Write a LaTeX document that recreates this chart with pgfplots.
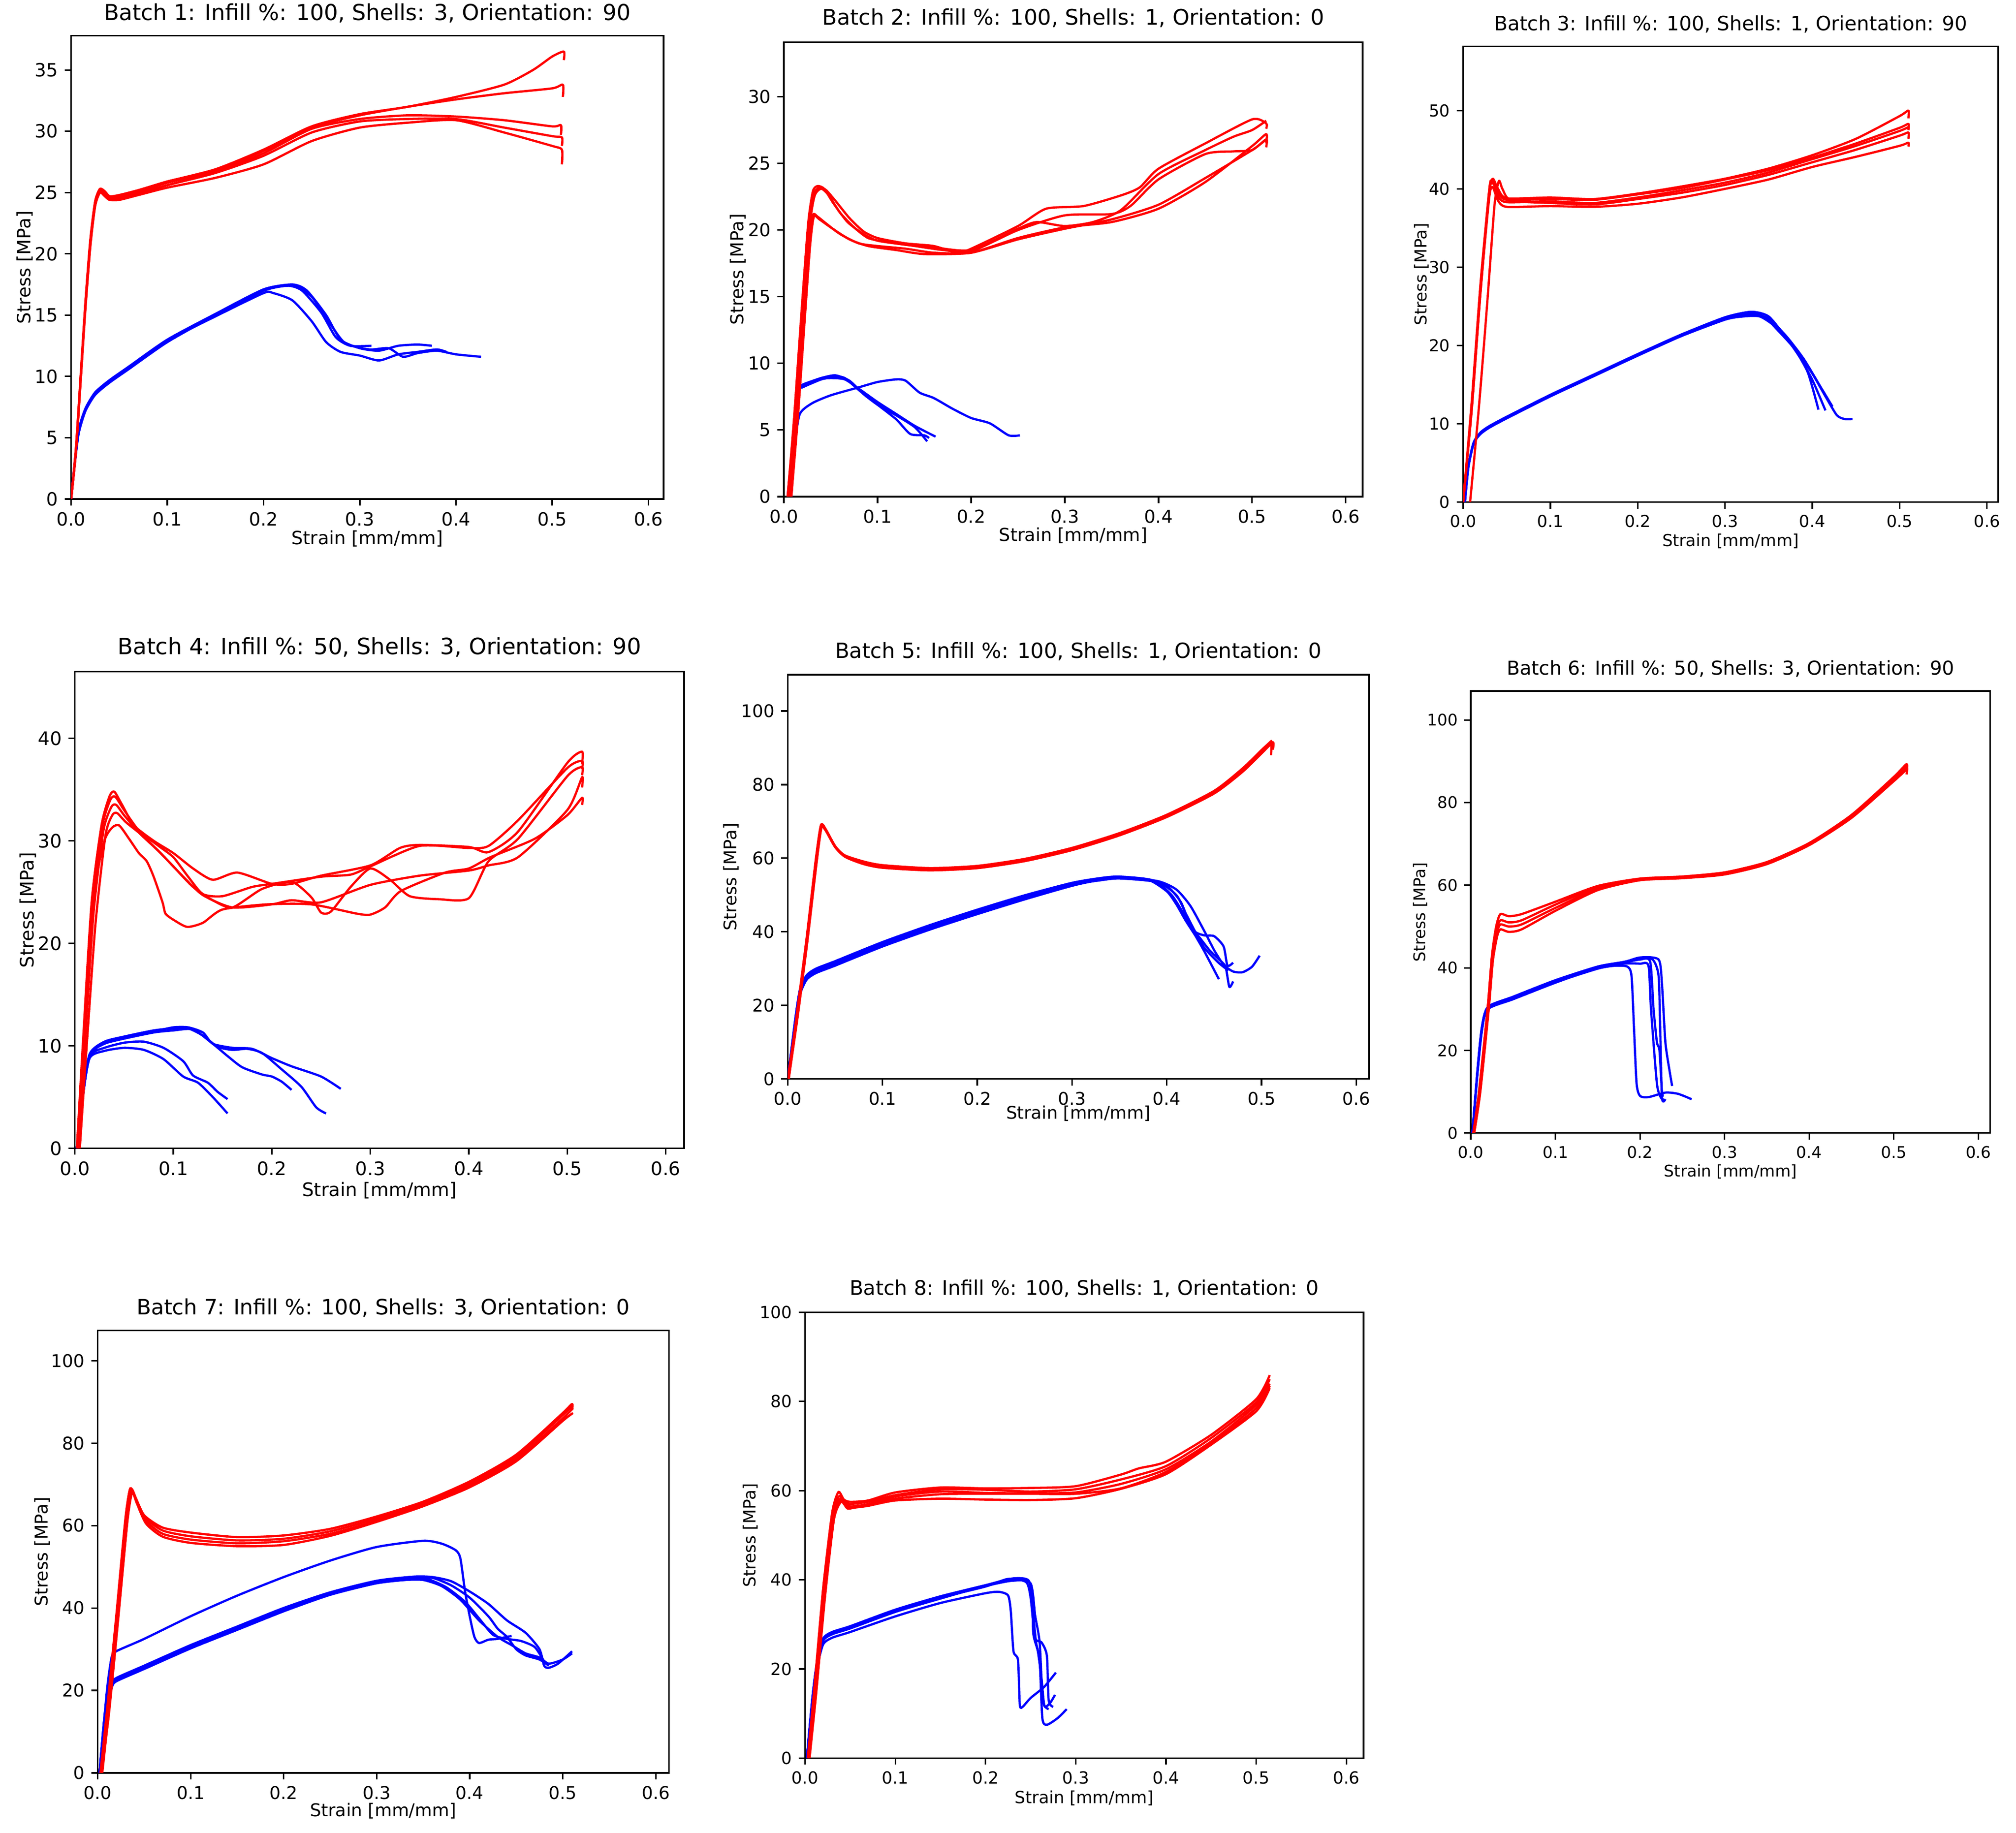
\documentclass[border=0pt]{standalone}
\usepackage{fontspec}
\setmainfont{DejaVu Sans}
\usepackage{pgfplots}
\pgfplotsset{compat=1.18}
\pgfplotsset{
  panel/.style={
    scale only axis, anchor=north west,
    xmin=0, ymin=0,
    xtick={0,0.1,0.2,0.3,0.4,0.5,0.6},
    tick align=outside, major tick length=3.5pt,
    tick pos=left,
    axis line style={line width=0.8pt},
    tick style={black, line width=0.8pt},
    /pgf/number format/assume math mode=true,
    xticklabel style={/pgf/number format/.cd, fixed, fixed zerofill, precision=1},
    xlabel={Strain [mm/mm]}, ylabel={Stress [MPa]},
    every axis plot/.append style={line width=1.2pt, line join=round, smooth, tension=0.4},
  },
  fs/.style 2 args={title style={font=\fontsize{#1}{#1}\selectfont}, tick label style={font=\fontsize{#2}{#2}\selectfont}, label style={font=\fontsize{#2}{#2}\selectfont}},
  gaps/.style n args={3}{title style={at={([yshift=#1]axis description cs:0.5,1)},anchor=base},
      xlabel style={at={([yshift=-#2]axis description cs:0.5,0)},anchor=base},
      ylabel style={at={([xshift=-#3]axis description cs:0,0.5)},anchor=base}},
  rd/.style={red, line width=1.2pt}, bl/.style={blue, line width=1.2pt},
}
\begin{document}
\begin{tikzpicture}
\path[use as bounding box] (0,0) rectangle (1081.5pt,-983.25pt);
% ---------------- Batch 1
\begin{axis}[panel, at={(38.15pt,-19.125pt)}, width=317.85pt, height=248.6pt,
  xmax=0.6157, ymax=37.8, ytick={0,5,10,15,20,25,30,35},
  fs={11.8pt}{9.8pt}, gaps={2.3pt}{24.5pt}{21.75pt},
  title={Batch 1: Infill \%: 100, Shells: 3, Orientation: 90}]
\addplot[bl] coordinates {(0,0) (0.004,3) (0.008,5.5) (0.015,7.3) (0.025,8.6) (0.04,9.6) (0.06,10.7) (0.1,12.9) (0.15,15.0) (0.2,17.0) (0.225,17.4) (0.24,17.0) (0.26,15.2) (0.275,13.2) (0.29,12.5) (0.312,12.5)};
\addplot[bl] coordinates {(0,0) (0.004,3.2) (0.008,5.7) (0.015,7.4) (0.025,8.7) (0.04,9.7) (0.06,10.8) (0.1,13.0) (0.15,15.1) (0.2,17.1) (0.23,17.5) (0.245,17.0) (0.265,15.0) (0.28,13.0) (0.3,12.3) (0.32,12.1) (0.34,12.5) (0.36,12.6) (0.375,12.5)};
\addplot[bl] coordinates {(0,0) (0.004,3) (0.008,5.4) (0.015,7.2) (0.025,8.5) (0.04,9.5) (0.06,10.6) (0.1,12.8) (0.15,15.0) (0.2,17.0) (0.23,17.4) (0.25,16.5) (0.27,14.2) (0.285,12.7) (0.31,12.2) (0.33,12.3) (0.345,11.6) (0.36,11.9) (0.38,12.1) (0.4,11.8) (0.426,11.6)};
\addplot[bl] coordinates {(0,0) (0.004,3.1) (0.008,5.6) (0.015,7.3) (0.025,8.6) (0.04,9.6) (0.06,10.7) (0.1,12.9) (0.15,14.9) (0.2,16.8) (0.21,16.8) (0.23,16.2) (0.25,14.5) (0.265,12.8) (0.28,12.0) (0.3,11.7) (0.32,11.3) (0.34,11.8) (0.36,12.0) (0.38,12.2) (0.39,12.0)};
\addplot[rd] coordinates {(0,0) (0.005,4) (0.01,10) (0.015,16) (0.02,21) (0.025,24.2) (0.03,25.3) (0.035,25.1) (0.04,24.7) (0.05,24.8) (0.07,25.2) (0.1,25.9) (0.15,26.9) (0.2,28.5) (0.25,30.4) (0.3,31.4) (0.35,32.0) (0.4,32.8) (0.45,33.8) (0.48,35.0) (0.5,36.1) (0.512,36.5) (0.512,35.8)};
\addplot[rd] coordinates {(0,0) (0.005,4.2) (0.01,10.2) (0.015,16.2) (0.02,21.2) (0.025,24.3) (0.03,25.3) (0.035,25.0) (0.04,24.6) (0.05,24.7) (0.07,25.1) (0.1,25.9) (0.15,26.8) (0.2,28.4) (0.25,30.3) (0.3,31.3) (0.35,32.0) (0.4,32.6) (0.45,33.1) (0.5,33.5) (0.511,33.8) (0.511,32.8)};
\addplot[rd] coordinates {(0,0) (0.005,4) (0.01,10) (0.015,16) (0.02,21) (0.025,24.1) (0.03,25.2) (0.035,24.9) (0.04,24.5) (0.05,24.6) (0.07,25.0) (0.1,25.8) (0.15,26.7) (0.2,28.2) (0.25,30.2) (0.3,31.0) (0.35,31.3) (0.4,31.2) (0.45,30.9) (0.5,30.4) (0.509,30.5) (0.509,29.7)};
\addplot[rd] coordinates {(0,0) (0.005,3.9) (0.01,9.8) (0.015,15.8) (0.02,20.8) (0.025,24.0) (0.03,25.1) (0.035,24.8) (0.04,24.4) (0.05,24.5) (0.07,24.9) (0.1,25.6) (0.15,26.6) (0.2,28.0) (0.25,29.9) (0.3,30.8) (0.35,31.0) (0.4,31.0) (0.45,30.3) (0.5,29.6) (0.51,29.5) (0.51,28.8)};
\addplot[rd] coordinates {(0,0) (0.005,3.8) (0.01,9.7) (0.015,15.6) (0.02,20.6) (0.025,23.9) (0.03,25.0) (0.035,24.7) (0.04,24.4) (0.05,24.4) (0.07,24.8) (0.1,25.4) (0.15,26.2) (0.2,27.3) (0.25,29.2) (0.3,30.3) (0.35,30.7) (0.4,30.9) (0.45,29.9) (0.5,28.8) (0.51,28.5) (0.51,27.3)};
\end{axis}
% ---------------- Batch 2
\begin{axis}[panel, at={(420.5pt,-22.575pt)}, width=310.5pt, height=243.9pt,
  xmax=0.618, ymax=34.1, ytick={0,5,10,15,20,25,30},
  fs={11.55pt}{9.6pt}, gaps={3.1pt}{24pt}{21.75pt},
  title={Batch 2: Infill \%: 100, Shells: 1, Orientation: 0}]
\addplot[bl] coordinates {(0.008,0) (0.012,4) (0.017,6.2) (0.03,7.0) (0.05,7.6) (0.08,8.2) (0.1,8.6) (0.12,8.8) (0.13,8.7) (0.145,7.8) (0.16,7.4) (0.18,6.6) (0.2,5.9) (0.22,5.5) (0.24,4.6) (0.252,4.6)};
\addplot[bl] coordinates {(0.005,0) (0.01,4) (0.015,7.8) (0.02,8.3) (0.04,8.9) (0.055,9.0) (0.065,8.9) (0.08,8.0) (0.1,6.9) (0.12,5.8) (0.135,4.7) (0.15,4.6) (0.155,4.4)};
\addplot[bl] coordinates {(0.004,0) (0.01,4.5) (0.015,8.0) (0.02,8.4) (0.04,8.9) (0.055,9.1) (0.07,8.7) (0.085,7.7) (0.1,6.9) (0.12,6.1) (0.14,5.2) (0.153,4.15)};
\addplot[bl] coordinates {(0.005,0) (0.01,4.2) (0.015,7.9) (0.02,8.2) (0.04,8.8) (0.05,8.9) (0.065,8.8) (0.08,8.1) (0.1,7.1) (0.12,6.2) (0.14,5.3) (0.162,4.5)};
\addplot[rd] coordinates {(0.005,0) (0.012,6) (0.02,14) (0.027,20.5) (0.032,22.7) (0.038,23.2) (0.045,23.0) (0.055,22.2) (0.07,20.9) (0.085,19.9) (0.1,19.4) (0.13,19.0) (0.16,18.8) (0.185,18.3) (0.2,18.6) (0.25,20.3) (0.28,21.6) (0.32,21.8) (0.36,22.6) (0.38,23.2) (0.4,24.6) (0.45,26.5) (0.5,28.3) (0.515,28.0) (0.515,27.6)};
\addplot[rd] coordinates {(0.004,0) (0.011,6) (0.019,14) (0.026,20.5) (0.031,22.9) (0.036,23.3) (0.043,23.1) (0.053,22.0) (0.068,20.6) (0.085,19.7) (0.1,19.2) (0.13,18.9) (0.16,18.7) (0.2,18.5) (0.25,20.1) (0.27,20.6) (0.3,20.3) (0.33,20.6) (0.36,21.5) (0.4,24.2) (0.45,26.0) (0.48,27.0) (0.5,27.5) (0.515,28.2)};
\addplot[rd] coordinates {(0.006,0) (0.013,6) (0.021,14) (0.028,20.5) (0.033,22.6) (0.04,23.1) (0.048,22.6) (0.06,21.3) (0.075,20.2) (0.09,19.4) (0.11,19.1) (0.14,18.8) (0.17,18.5) (0.2,18.4) (0.25,20.0) (0.3,21.1) (0.35,21.2) (0.37,21.8) (0.4,23.8) (0.45,25.7) (0.48,25.9) (0.5,26.0) (0.515,26.8) (0.515,26.2)};
\addplot[rd] coordinates {(0.007,0) (0.014,6) (0.021,13) (0.027,18.5) (0.031,21.1) (0.036,21.0) (0.045,20.5) (0.06,19.7) (0.08,19.0) (0.1,18.8) (0.13,18.6) (0.16,18.3) (0.2,18.3) (0.25,19.4) (0.3,20.2) (0.35,20.6) (0.4,21.6) (0.45,23.6) (0.5,26.3) (0.515,27.2) (0.515,26.5)};
\addplot[rd] coordinates {(0.008,0) (0.015,6) (0.022,13) (0.028,18.8) (0.032,21.0) (0.038,20.8) (0.05,20.2) (0.07,19.3) (0.09,18.8) (0.12,18.5) (0.15,18.2) (0.2,18.3) (0.25,19.3) (0.3,20.1) (0.35,20.8) (0.4,21.9) (0.45,23.9) (0.5,26.0) (0.515,26.8)};
\end{axis}
% ---------------- Batch 3
\begin{axis}[panel, at={(784.9pt,-24.875pt)}, width=287.1pt, height=244.5pt,
  xmax=0.613, ymax=58.2, ytick={0,10,20,30,40,50},
  fs={10.6pt}{8.85pt}, gaps={2.5pt}{23.75pt}{19.5pt},
  title={Batch 3: Infill \%: 100, Shells: 1, Orientation: 90}]
\addplot[bl] coordinates {(0.002,0) (0.006,4.5) (0.012,7.5) (0.02,8.8) (0.03,9.6) (0.05,10.8) (0.1,13.6) (0.15,16.2) (0.2,18.8) (0.25,21.3) (0.3,23.4) (0.325,24.0) (0.345,23.6) (0.36,22.0) (0.38,19.5) (0.395,16.5) (0.407,11.8)};
\addplot[bl] coordinates {(0.002,0) (0.006,4.6) (0.012,7.6) (0.02,8.9) (0.03,9.7) (0.05,10.9) (0.1,13.7) (0.15,16.3) (0.2,18.9) (0.25,21.4) (0.3,23.6) (0.33,24.3) (0.35,23.7) (0.37,21.0) (0.385,18.6) (0.4,15.6) (0.415,11.7)};
\addplot[bl] coordinates {(0.002,0) (0.006,4.4) (0.012,7.4) (0.02,8.8) (0.03,9.6) (0.05,10.8) (0.1,13.6) (0.15,16.2) (0.2,18.8) (0.25,21.3) (0.3,23.5) (0.33,24.1) (0.35,23.4) (0.37,21.2) (0.39,18.3) (0.41,14.6) (0.423,12.2)};
\addplot[bl] coordinates {(0.002,0) (0.006,4.5) (0.012,7.5) (0.02,8.7) (0.03,9.5) (0.05,10.7) (0.1,13.5) (0.15,16.1) (0.2,18.7) (0.25,21.2) (0.3,23.3) (0.32,23.7) (0.34,23.7) (0.36,22.2) (0.38,19.6) (0.4,16.4) (0.415,13.5) (0.428,11.1) (0.437,10.6) (0.446,10.6)};
\addplot[rd] coordinates {(0,0) (0.01,12) (0.02,27) (0.03,39.5) (0.034,41.3) (0.04,40) (0.05,38.8) (0.1,38.9) (0.15,38.7) (0.2,39.4) (0.25,40.3) (0.3,41.3) (0.35,42.6) (0.4,44.3) (0.45,46.4) (0.5,49.3) (0.51,50.0) (0.51,49.0)};
\addplot[rd] coordinates {(0,0) (0.01,13) (0.02,28) (0.03,40) (0.033,41.0) (0.04,39.5) (0.05,38.6) (0.1,38.7) (0.15,38.6) (0.2,39.3) (0.25,40.1) (0.3,41.2) (0.35,42.4) (0.4,44.0) (0.45,45.8) (0.5,47.8) (0.51,48.3) (0.51,47.5)};
\addplot[rd] coordinates {(0,0) (0.01,12.5) (0.02,27) (0.03,39.8) (0.035,40.6) (0.04,39) (0.05,38.3) (0.1,38.4) (0.15,38.2) (0.2,38.9) (0.25,39.8) (0.3,40.8) (0.35,42.1) (0.4,43.8) (0.45,45.5) (0.5,47.4) (0.51,47.9)};
\addplot[rd] coordinates {(0.008,0) (0.018,12) (0.028,26) (0.036,38) (0.041,41) (0.045,40) (0.055,38.5) (0.1,38.2) (0.15,38.0) (0.2,38.7) (0.25,39.5) (0.3,40.5) (0.35,41.8) (0.4,43.4) (0.45,45.0) (0.5,46.8) (0.51,47.2) (0.51,46.4)};
\addplot[rd] coordinates {(0,0) (0.01,12) (0.02,27) (0.03,39) (0.034,40.2) (0.04,38.5) (0.05,37.7) (0.1,37.8) (0.15,37.7) (0.2,38.1) (0.25,38.9) (0.3,40.0) (0.35,41.2) (0.4,42.8) (0.45,44.1) (0.5,45.5) (0.51,45.9) (0.51,45.4)};
\end{axis}
% ---------------- Batch 4
\begin{axis}[panel, at={(40.175pt,-360.4pt)}, width=326.8pt, height=255.7pt,
  xmax=0.6186, ymax=46.5, ytick={0,10,20,30,40},
  fs={12.05pt}{10pt}, gaps={3.4pt}{25.75pt}{22.1pt},
  title={Batch 4: Infill \%: 50, Shells: 3, Orientation: 90}]
\addplot[bl] coordinates {(0.002,0) (0.008,5) (0.015,9) (0.03,10.3) (0.05,10.8) (0.08,11.4) (0.1,11.8) (0.115,11.8) (0.13,11.3) (0.14,10.2) (0.16,9.8) (0.18,9.7) (0.2,8.8) (0.22,8.0) (0.25,7.0) (0.27,5.8)};
\addplot[bl] coordinates {(0.002,0) (0.008,5.2) (0.015,9.2) (0.03,10.4) (0.05,10.9) (0.08,11.5) (0.1,11.7) (0.115,11.7) (0.13,11.0) (0.145,9.9) (0.16,9.6) (0.175,9.7) (0.19,9.3) (0.21,7.7) (0.23,6.0) (0.245,4.0) (0.255,3.4)};
\addplot[bl] coordinates {(0.002,0) (0.008,5) (0.015,9.1) (0.03,10.2) (0.05,10.7) (0.08,11.3) (0.1,11.5) (0.12,11.6) (0.14,10.2) (0.155,9.0) (0.17,7.9) (0.19,7.2) (0.2,7.0) (0.21,6.5) (0.22,5.7)};
\addplot[bl] coordinates {(0.002,0) (0.008,5) (0.015,9) (0.03,9.8) (0.05,10.3) (0.07,10.4) (0.09,9.8) (0.11,8.5) (0.12,7.1) (0.135,6.4) (0.145,5.5) (0.155,4.8)};
\addplot[bl] coordinates {(0.002,0) (0.008,5) (0.015,8.8) (0.03,9.5) (0.05,9.8) (0.07,9.6) (0.09,8.7) (0.11,7.0) (0.125,6.4) (0.14,5.0) (0.155,3.4)};
\addplot[rd] coordinates {(0.003,0) (0.01,11) (0.02,25) (0.03,30) (0.038,31.3) (0.045,31.5) (0.055,30.2) (0.065,28.8) (0.073,28.0) (0.08,26.5) (0.089,24.0) (0.092,22.9) (0.1,22.3) (0.114,21.6) (0.13,22.0) (0.15,23.3) (0.195,23.8) (0.24,23.8) (0.286,22.9) (0.3,22.8) (0.315,23.5) (0.331,25.1) (0.376,26.9) (0.4,27.3) (0.422,28.4) (0.467,30.2) (0.5,32.5) (0.515,34.2) (0.515,33.5)};
\addplot[rd] coordinates {(0.002,0) (0.008,10) (0.017,24) (0.027,31.5) (0.035,34.3) (0.04,34.8) (0.048,33.5) (0.06,31.5) (0.08,30.0) (0.1,28.8) (0.12,27.3) (0.14,26.2) (0.165,26.9) (0.2,25.8) (0.22,25.8) (0.25,26.6) (0.3,27.6) (0.33,29.3) (0.35,29.6) (0.4,29.4) (0.42,28.9) (0.45,30.9) (0.5,37.6) (0.515,38.7) (0.515,37.5)};
\addplot[rd] coordinates {(0.003,0) (0.009,10) (0.018,24) (0.028,31.5) (0.036,34.0) (0.041,34.3) (0.05,33.0) (0.065,31.0) (0.085,29.5) (0.1,28.4) (0.115,26.5) (0.13,24.8) (0.15,24.6) (0.18,25.5) (0.2,25.8) (0.25,26.5) (0.28,26.7) (0.3,27.5) (0.35,29.5) (0.4,29.3) (0.42,29.5) (0.45,32.0) (0.5,37.1) (0.515,37.8) (0.515,37.0)};
\addplot[rd] coordinates {(0.004,0) (0.01,10) (0.019,23) (0.029,31) (0.037,33.3) (0.042,33.5) (0.05,32.5) (0.065,30.8) (0.085,29.0) (0.1,27.5) (0.12,25.5) (0.14,24.2) (0.16,23.5) (0.19,25.3) (0.22,26.0) (0.24,24.5) (0.25,23.0) (0.26,23.1) (0.28,25.5) (0.3,27.3) (0.32,26.2) (0.34,24.6) (0.37,24.3) (0.4,24.4) (0.42,28.0) (0.45,30.2) (0.5,36.3) (0.515,37.2) (0.515,36.4)};
\addplot[rd] coordinates {(0.005,0) (0.012,10) (0.021,22) (0.031,30.5) (0.038,32.5) (0.043,32.7) (0.052,31.8) (0.07,30.4) (0.09,28.5) (0.11,26.5) (0.13,24.7) (0.16,23.5) (0.2,23.8) (0.22,24.2) (0.25,24.0) (0.3,25.7) (0.35,26.6) (0.4,27.1) (0.42,27.6) (0.45,28.4) (0.5,33.0) (0.515,36.2) (0.515,35.2)};
\end{axis}
% ---------------- Batch 5
\begin{axis}[panel, at={(422.6pt,-361.975pt)}, width=311.9pt, height=216.9pt,
  xmax=0.6136, ymax=109.9, ytick={0,20,40,60,80,100},
  fs={11.2pt}{9.35pt}, gaps={2.8pt}{21.5pt}{27.6pt},
  title={Batch 5: Infill \%: 100, Shells: 1, Orientation: 0}]
\addplot[bl] coordinates {(0,0) (0.008,16) (0.013,24) (0.02,27.8) (0.03,29.6) (0.05,31.6) (0.1,36.8) (0.15,41.4) (0.2,45.6) (0.25,49.5) (0.3,53.0) (0.33,54.4) (0.35,54.8) (0.38,54.2) (0.4,51.0) (0.41,47.5) (0.42,43.0) (0.43,39.0) (0.44,34.5) (0.455,27.1)};
\addplot[bl] coordinates {(0,0) (0.008,15.5) (0.013,23.5) (0.02,27.3) (0.03,29.1) (0.05,31.1) (0.1,36.3) (0.15,40.9) (0.2,45.1) (0.25,49.0) (0.3,52.6) (0.33,54.1) (0.35,54.6) (0.38,54.0) (0.4,52.5) (0.415,48) (0.425,41.5) (0.435,38.3) (0.445,35.0) (0.455,32.5) (0.462,30.5) (0.466,25) (0.47,26.5)};
\addplot[bl] coordinates {(0,0) (0.008,16.5) (0.013,24.5) (0.02,28.2) (0.03,30.0) (0.05,32.0) (0.1,37.2) (0.15,41.8) (0.2,46.0) (0.25,49.9) (0.3,53.3) (0.33,54.6) (0.35,55.0) (0.385,54.0) (0.405,50) (0.42,44) (0.43,40) (0.44,39) (0.45,38.8) (0.46,36) (0.464,30.8) (0.47,31.6)};
\addplot[bl] coordinates {(0,0) (0.008,15) (0.013,23) (0.02,27.0) (0.03,28.8) (0.05,30.8) (0.1,36.0) (0.15,40.6) (0.2,44.8) (0.25,48.8) (0.3,52.5) (0.33,54.2) (0.35,54.7) (0.39,53.8) (0.41,51.5) (0.425,47) (0.44,40) (0.45,35) (0.46,31) (0.47,29.2) (0.48,29.0) (0.49,30.5) (0.498,33.5)};
\addplot[bl] coordinates {(0,0) (0.008,15.8) (0.013,23.8) (0.02,27.5) (0.03,29.3) (0.05,31.3) (0.1,36.5) (0.15,41.1) (0.2,45.3) (0.25,49.2) (0.3,52.8) (0.33,54.0) (0.35,54.5) (0.39,53.5) (0.41,50) (0.42,45) (0.43,40) (0.44,35.5) (0.455,31.5) (0.465,29.5)};
\addplot[rd] coordinates {(0,0) (0.01,18) (0.02,38) (0.03,60) (0.035,68.5) (0.04,67.5) (0.05,63) (0.06,60.5) (0.08,58.8) (0.1,57.8) (0.15,57.0) (0.2,57.6) (0.25,59.5) (0.3,62.5) (0.35,66.5) (0.4,71.5) (0.45,78) (0.48,84) (0.5,89) (0.51,91.5) (0.51,88)};
\addplot[rd] coordinates {(0.001,0) (0.011,18) (0.021,38) (0.031,60) (0.036,68.8) (0.041,67.3) (0.051,62.8) (0.061,60.3) (0.08,58.4) (0.1,57.4) (0.15,56.7) (0.2,57.3) (0.25,59.2) (0.3,62.2) (0.35,66.2) (0.4,71.2) (0.45,77.6) (0.48,83.5) (0.5,88.5) (0.512,91.5) (0.512,89.5)};
\addplot[rd] coordinates {(0.001,0) (0.01,18.5) (0.02,38.5) (0.03,60.5) (0.035,69) (0.04,67.9) (0.05,63.3) (0.06,60.8) (0.08,59.1) (0.1,58.1) (0.15,57.3) (0.2,57.9) (0.25,59.8) (0.3,62.8) (0.35,66.8) (0.4,71.8) (0.45,78.3) (0.48,84.4) (0.5,89.4) (0.511,92)};
\end{axis}
% ---------------- Batch 6
\begin{axis}[panel, at={(789pt,-370.75pt)}, width=278.7pt, height=237.2pt,
  xmax=0.614, ymax=107, ytick={0,20,40,60,80,100},
  fs={10.3pt}{8.6pt}, gaps={2.75pt}{23.5pt}{24.4pt},
  title={Batch 6: Infill \%: 50, Shells: 3, Orientation: 90}]
\addplot[bl] coordinates {(0.002,0) (0.008,15) (0.013,25) (0.02,30) (0.05,32.5) (0.1,36.5) (0.15,39.8) (0.17,40.5) (0.185,40.3) (0.19,38) (0.193,25) (0.196,12) (0.2,9.0) (0.21,8.7) (0.23,9.8) (0.245,9.5) (0.261,8.2)};
\addplot[bl] coordinates {(0.002,0) (0.008,15.5) (0.013,25.5) (0.02,30.3) (0.05,32.8) (0.1,36.8) (0.15,40.0) (0.18,41) (0.2,41.0) (0.21,40.5) (0.213,30) (0.22,12) (0.225,8.5) (0.23,8.0)};
\addplot[bl] coordinates {(0.002,0) (0.008,15) (0.013,25) (0.02,30.5) (0.05,33.0) (0.1,37.0) (0.15,40.3) (0.18,41.4) (0.2,42.3) (0.215,42) (0.222,38) (0.224,24) (0.226,8.5) (0.23,8.2)};
\addplot[bl] coordinates {(0.002,0) (0.008,14.5) (0.013,24.5) (0.02,30.2) (0.05,32.6) (0.1,36.6) (0.15,40.2) (0.18,41.3) (0.2,42.5) (0.222,42) (0.226,36) (0.23,22) (0.235,15) (0.238,11.4)};
\addplot[bl] coordinates {(0.002,0) (0.008,15) (0.013,25) (0.02,30.0) (0.05,32.4) (0.1,36.4) (0.15,40.0) (0.18,41.2) (0.2,42) (0.212,41.5) (0.216,30) (0.22,22) (0.223,20) (0.226,10) (0.228,9)};
\addplot[rd] coordinates {(0.003,0) (0.01,10) (0.02,30) (0.025,43) (0.03,50) (0.035,53) (0.045,52.5) (0.06,53) (0.1,56) (0.15,59.8) (0.2,61.6) (0.25,62.1) (0.3,63.1) (0.35,65.6) (0.4,70.2) (0.45,77.0) (0.5,86.2) (0.515,89.3) (0.515,87.5)};
\addplot[rd] coordinates {(0.003,0) (0.01,10.5) (0.02,30.5) (0.025,42.5) (0.03,49) (0.035,51.5) (0.045,51) (0.06,51.5) (0.1,55.3) (0.15,59.5) (0.2,61.4) (0.25,61.9) (0.3,62.9) (0.35,65.4) (0.4,70.0) (0.45,76.7) (0.5,85.8) (0.515,88.8)};
\addplot[rd] coordinates {(0.004,0) (0.011,10) (0.021,30) (0.026,42) (0.031,48.5) (0.035,50.5) (0.045,50) (0.06,50.5) (0.1,54.5) (0.15,59.2) (0.2,61.3) (0.25,61.8) (0.3,62.7) (0.35,65.2) (0.4,69.8) (0.45,76.5) (0.5,85.5) (0.515,88.5) (0.515,86.8)};
\addplot[rd] coordinates {(0.004,0) (0.011,9.5) (0.021,29.5) (0.026,41.5) (0.031,47.5) (0.035,49.3) (0.045,48.7) (0.06,49.3) (0.1,53.8) (0.15,58.8) (0.2,61.2) (0.25,61.7) (0.3,62.6) (0.35,65.1) (0.4,69.7) (0.45,76.3) (0.5,85.2) (0.515,88.0)};
\end{axis}
% ---------------- Batch 7
\begin{axis}[panel, at={(52.375pt,-713.925pt)}, width=306.4pt, height=237.3pt,
  xmax=0.614, ymax=107.3, ytick={0,20,40,60,80,100},
  fs={11.35pt}{9.45pt}, gaps={2.5pt}{23.5pt}{26.75pt},
  title={Batch 7: Infill \%: 100, Shells: 3, Orientation: 0}]
\addplot[bl] coordinates {(0.002,0) (0.01,20) (0.015,28) (0.02,29.5) (0.05,32.5) (0.1,38) (0.15,43) (0.2,47.5) (0.25,51.5) (0.3,54.8) (0.35,56.3) (0.37,55.6) (0.385,54) (0.39,52) (0.395,44) (0.4,38) (0.405,33) (0.41,31.5) (0.42,32.3) (0.43,32.5) (0.44,33) (0.445,33.2)};
\addplot[bl] coordinates {(0.002,0) (0.008,15) (0.015,21.5) (0.02,23) (0.05,26) (0.1,31) (0.15,35.5) (0.2,40) (0.25,43.8) (0.3,46.6) (0.34,47.6) (0.36,47.5) (0.38,46.5) (0.4,44) (0.42,41) (0.44,37) (0.46,34) (0.475,30) (0.48,26) (0.485,25.5) (0.495,26.5) (0.51,29.5)};
\addplot[bl] coordinates {(0.002,0) (0.008,14.5) (0.015,21) (0.02,22.5) (0.05,25.5) (0.1,30.5) (0.15,35) (0.2,39.5) (0.25,43.5) (0.3,46.3) (0.34,47.3) (0.36,47.3) (0.38,45.5) (0.4,42.5) (0.42,38) (0.43,35) (0.44,33) (0.45,30) (0.46,28.5) (0.475,27.5) (0.485,26)};
\addplot[bl] coordinates {(0.002,0) (0.008,14) (0.015,20.5) (0.02,22.2) (0.05,25.2) (0.1,30.2) (0.15,34.7) (0.2,39.2) (0.25,43.2) (0.3,46.0) (0.34,47.0) (0.355,47.0) (0.375,45) (0.395,41.5) (0.41,37.5) (0.425,33.5) (0.44,32.5) (0.455,32) (0.47,30.5) (0.48,27)};
\addplot[bl] coordinates {(0.002,0) (0.008,14.2) (0.015,20.8) (0.02,22.3) (0.05,25.3) (0.1,30.3) (0.15,34.8) (0.2,39.3) (0.25,43.3) (0.3,46.1) (0.33,46.8) (0.35,46.8) (0.37,45.3) (0.39,42) (0.41,37) (0.43,33) (0.445,31) (0.46,29) (0.475,28) (0.485,26.5) (0.5,27.5) (0.51,29)};
\addplot[rd] coordinates {(0.003,0) (0.01,15) (0.02,38) (0.03,62) (0.035,69) (0.04,67) (0.05,62.5) (0.07,59.5) (0.1,58.3) (0.15,57.2) (0.2,57.6) (0.25,59.2) (0.3,62.2) (0.35,65.8) (0.4,70.7) (0.45,77.2) (0.5,87.3) (0.51,89.5) (0.51,88)};
\addplot[rd] coordinates {(0.004,0) (0.011,15) (0.021,38) (0.031,62) (0.036,68.8) (0.041,66.7) (0.051,62) (0.07,58.8) (0.1,57.4) (0.15,56.4) (0.2,56.8) (0.25,58.6) (0.3,61.7) (0.35,65.4) (0.4,70.3) (0.45,76.7) (0.5,86.8) (0.51,89)};
\addplot[rd] coordinates {(0.005,0) (0.012,15) (0.022,38) (0.032,61.5) (0.037,68.3) (0.042,66) (0.052,61.2) (0.07,58) (0.1,56.6) (0.15,55.7) (0.2,56.2) (0.25,58.0) (0.3,61.2) (0.35,65.0) (0.4,69.8) (0.45,76.1) (0.5,86.0) (0.511,88.5)};
\addplot[rd] coordinates {(0.004,0) (0.012,14) (0.022,37) (0.032,61) (0.037,68) (0.042,65.5) (0.052,60.5) (0.07,57.3) (0.1,55.8) (0.15,55.0) (0.2,55.3) (0.25,57.5) (0.3,60.9) (0.35,64.7) (0.4,69.3) (0.45,75.6) (0.5,85.4) (0.511,87.3)};
\end{axis}
% ---------------- Batch 8
\begin{axis}[panel, at={(431.875pt,-704.1pt)}, width=299.6pt, height=239.25pt,
  xmax=0.619, ymax=100, ytick={0,20,40,60,80,100},
  fs={10.8pt}{9pt}, gaps={3.15pt}{24.25pt}{26.5pt},
  title={Batch 8: Infill \%: 100, Shells: 1, Orientation: 0}]
\addplot[bl] coordinates {(0.002,0) (0.008,12) (0.013,20) (0.02,25.5) (0.03,27.0) (0.05,28.3) (0.1,31.8) (0.15,34.8) (0.2,37.0) (0.215,37.3) (0.225,36.5) (0.228,33) (0.231,24) (0.236,22) (0.238,12) (0.241,11.5) (0.25,13.5) (0.265,16) (0.278,19.2)};
\addplot[bl] coordinates {(0.002,0) (0.008,13) (0.013,21) (0.02,26.5) (0.03,28.0) (0.05,29.3) (0.1,33.0) (0.15,36.0) (0.2,38.5) (0.225,40.2) (0.245,39.5) (0.25,36) (0.255,27) (0.262,26) (0.268,23) (0.27,13) (0.275,11.5)};
\addplot[bl] coordinates {(0.002,0) (0.008,13.3) (0.013,21.3) (0.02,26.8) (0.03,28.3) (0.05,29.6) (0.1,33.3) (0.15,36.3) (0.2,38.8) (0.23,40.3) (0.248,39.8) (0.252,34) (0.256,26) (0.26,22) (0.263,9) (0.268,7.5) (0.28,9) (0.29,11)};
\addplot[bl] coordinates {(0.002,0) (0.008,12.8) (0.013,20.8) (0.02,26.3) (0.03,27.8) (0.05,29.1) (0.1,32.8) (0.15,35.8) (0.2,38.7) (0.23,40.0) (0.25,39.2) (0.255,32) (0.26,26) (0.263,14) (0.266,11.5) (0.272,12.5) (0.277,14.2)};
\addplot[bl] coordinates {(0.002,0) (0.008,13) (0.013,21) (0.02,26.4) (0.03,27.9) (0.05,29.2) (0.1,32.9) (0.15,35.9) (0.2,38.6) (0.23,39.8) (0.25,39) (0.253,28) (0.258,24) (0.262,18) (0.265,12) (0.27,11)};
\addplot[rd] coordinates {(0.003,0) (0.01,15) (0.02,38) (0.03,55) (0.037,59.7) (0.043,58) (0.05,57.5) (0.07,57.8) (0.1,59.6) (0.15,60.7) (0.2,60.5) (0.25,60.6) (0.3,61.0) (0.35,63.6) (0.37,65.0) (0.4,66.5) (0.45,72.5) (0.5,80.5) (0.515,85.9)};
\addplot[rd] coordinates {(0.004,0) (0.011,15) (0.021,38) (0.031,55) (0.038,58.8) (0.044,57.5) (0.05,57) (0.07,57.5) (0.1,59.0) (0.15,60.3) (0.2,60.2) (0.25,59.8) (0.3,60.3) (0.35,62.5) (0.4,65.5) (0.45,71.8) (0.5,79.8) (0.515,85)};
\addplot[rd] coordinates {(0.003,0) (0.011,14) (0.021,37) (0.031,54.5) (0.039,58.2) (0.045,56.8) (0.052,56.5) (0.07,57.0) (0.1,58.7) (0.15,59.8) (0.2,59.5) (0.25,59.4) (0.3,59.6) (0.35,61.5) (0.4,64.8) (0.45,71) (0.5,79.2) (0.515,84)};
\addplot[rd] coordinates {(0.005,0) (0.012,14) (0.022,37) (0.032,54) (0.04,57.8) (0.046,56.3) (0.053,56.2) (0.07,56.8) (0.1,58.2) (0.15,59.2) (0.2,59.3) (0.25,59.3) (0.3,59.3) (0.35,60.5) (0.4,64.2) (0.45,70.5) (0.5,78.5) (0.515,83.5)};
\addplot[rd] coordinates {(0.004,0) (0.012,14) (0.022,36) (0.032,53.5) (0.04,57.5) (0.047,56) (0.055,56.2) (0.07,56.6) (0.1,57.8) (0.15,58.2) (0.2,58.0) (0.25,57.9) (0.3,58.3) (0.35,60.4) (0.4,63.7) (0.45,70.3) (0.5,77.8) (0.515,83)};
\end{axis}
\end{tikzpicture}
\end{document}
